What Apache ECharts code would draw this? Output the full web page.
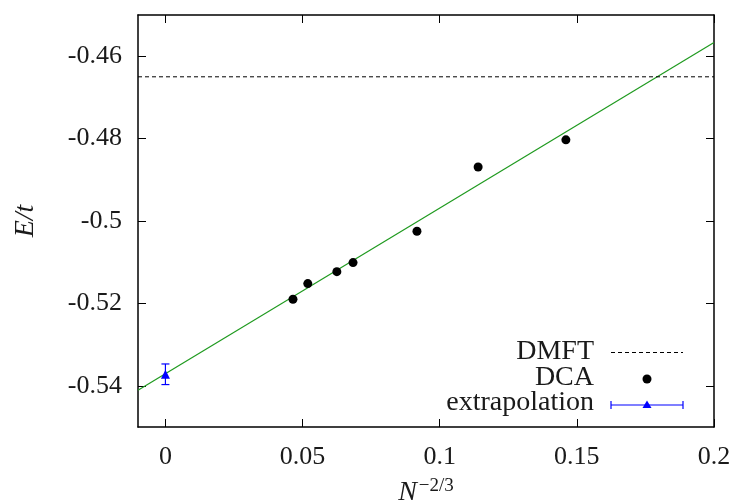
<!DOCTYPE html>
<html>
<head>
<meta charset="utf-8">
<script src="https://cdn.jsdelivr.net/npm/echarts@6/dist/echarts.min.js"></script>
<style>html,body{margin:0;padding:0;background:#fff}#c{width:736px;height:501px}</style>
</head>
<body>
<div id="c"></div>
<script>
// ---- data ----
const xTicks = [0, 0.05, 0.1, 0.15, 0.2];
const xTickLabels = ['0', '0.05', '0.1', '0.15', '0.2'];
const yTicks = [-0.54, -0.52, -0.5, -0.48, -0.46];
const yTickLabels = ['-0.54', '-0.52', '-0.5', '-0.48', '-0.46'];
const dcaX = [0.0465, 0.0519, 0.0625, 0.0684, 0.0917, 0.1140, 0.1460];
const dcaY = [-0.5190, -0.5152, -0.5123, -0.5101, -0.5025, -0.4869, -0.4803];
const dmftValue = -0.465;
const extrapX = [0];
const extrapY = [-0.5372];
const extrapErr = [0.0025];
const fitX = [-0.01, 0.2];
const fitY = [-0.5411, -0.4567];
const legendNames = ['DMFT', 'DCA', 'extrapolation'];

const FONT = '"Liberation Serif", "DejaVu Serif", serif';
const FS = 26;
const LFS = 28;
const GREEN = '#1f9a1f';
const BLUE = '#0000ff';
const TXT = '#1a1a1a';

const chart = echarts.init(document.getElementById('c'), null, {renderer: 'canvas'});

const axisCommon = {
  type: 'value', min: -0.01, max: 0.2,
  splitLine: {show: false},
  axisLine: {show: true, onZero: false, lineStyle: {color: '#000', width: 1.5}},
};

const option = {
  animation: false,
  backgroundColor: '#fff',
  grid: {left: 138, right: 22, top: 15, bottom: 74, show: false, containLabel: false, outerBoundsMode: 'none'},
  xAxis: [
    Object.assign({}, axisCommon, {
      position: 'bottom',
      axisTick: {show: true, inside: true, length: 8, lineStyle: {color: '#000', width: 1}, customValues: xTicks},
      axisLabel: {show: true, margin: 17, color: TXT, fontFamily: FONT, fontSize: FS,
        customValues: xTicks,
        formatter: v => { const i = xTicks.findIndex(t => Math.abs(t - v) < 1e-9); return i >= 0 ? xTickLabels[i] : ''; }},
      name: '{n|N}{s|\u22122/3}',
      nameLocation: 'middle', nameGap: 50,
      nameTextStyle: {
        rich: {
          n: {fontFamily: FONT, fontStyle: 'italic', fontSize: 28, color: TXT, lineHeight: 30, verticalAlign: 'bottom'},
          s: {fontFamily: FONT, fontSize: 19, color: TXT, lineHeight: 30, verticalAlign: 'top', padding: [0, 0, 16, 2]}
        }
      }
    }),
    Object.assign({}, axisCommon, {
      position: 'top',
      axisTick: {show: true, inside: true, length: 8, lineStyle: {color: '#000', width: 1}, customValues: xTicks},
      axisLabel: {show: false}
    })
  ],
  yAxis: [
    {
      type: 'value', min: -0.55, max: -0.45, position: 'left',
      splitLine: {show: false},
      axisLine: {show: true, onZero: false, lineStyle: {color: '#000', width: 1.5}},
      axisTick: {show: true, inside: true, length: 8, lineStyle: {color: '#000', width: 1}, customValues: yTicks},
      axisLabel: {show: true, margin: 16, color: TXT, fontFamily: FONT, fontSize: FS,
        customValues: yTicks,
        formatter: v => { const i = yTicks.findIndex(t => Math.abs(t - v) < 1e-9); return i >= 0 ? yTickLabels[i] : ''; }},
      name: 'E/t', nameLocation: 'middle', nameGap: 98, nameRotate: 90,
      nameTextStyle: {fontFamily: FONT, fontStyle: 'italic', fontSize: 28, color: TXT}
    },
    {
      type: 'value', min: -0.55, max: -0.45, position: 'right',
      splitLine: {show: false},
      axisLine: {show: true, onZero: false, lineStyle: {color: '#000', width: 1.5}},
      axisTick: {show: true, inside: true, length: 8, lineStyle: {color: '#000', width: 1}, customValues: yTicks},
      axisLabel: {show: false}
    }
  ],
  series: [
    {
      name: 'fit', type: 'line', xAxisIndex: 0, yAxisIndex: 0,
      data: fitX.map((x, i) => [x, fitY[i]]),
      showSymbol: false, symbol: 'none', silent: true,
      lineStyle: {color: GREEN, width: 1.2}, z: 2
    },
    {
      name: 'DMFT', type: 'line', xAxisIndex: 0, yAxisIndex: 0,
      data: [[-0.01, dmftValue], [0.2, dmftValue]],
      symbol: 'none', silent: true,
      lineStyle: {color: '#000', width: 1, type: [4, 3]}, z: 2
    },
    {
      name: 'DCA', type: 'scatter', xAxisIndex: 0, yAxisIndex: 0,
      data: dcaX.map((x, i) => [x, dcaY[i]]),
      symbol: 'circle', symbolSize: 9,
      itemStyle: {color: '#000', opacity: 1}, z: 3
    },
    {
      name: 'extrapolation-err', type: 'custom', xAxisIndex: 0, yAxisIndex: 0,
      data: extrapX.map((x, i) => [x, extrapY[i], extrapY[i] - extrapErr[i], extrapY[i] + extrapErr[i]]),
      renderItem: function (params, api) {
        const x = api.value(0);
        const p = api.coord([x, api.value(3)]);
        const q = api.coord([x, api.value(2)]);
        const st = {stroke: BLUE, lineWidth: 1.2};
        const w = 4;
        return {
          type: 'group',
          children: [
            {type: 'line', shape: {x1: p[0], y1: p[1], x2: q[0], y2: q[1]}, style: st},
            {type: 'line', shape: {x1: p[0] - w, y1: p[1], x2: p[0] + w, y2: p[1]}, style: st},
            {type: 'line', shape: {x1: q[0] - w, y1: q[1], x2: q[0] + w, y2: q[1]}, style: st}
          ]
        };
      },
      z: 4
    },
    {
      name: 'extrapolation', type: 'scatter', xAxisIndex: 0, yAxisIndex: 0,
      data: extrapX.map((x, i) => [x, extrapY[i]]),
      symbol: 'triangle', symbolSize: 9,
      itemStyle: {color: BLUE, opacity: 1}, z: 5
    }
  ],
  graphic: [
    {type: 'text', x: 594, y: 352, style: {text: legendNames[0], fontFamily: FONT, fontSize: LFS, fill: TXT, align: 'right', verticalAlign: 'middle'}},
    {type: 'line', shape: {x1: 611, y1: 352.5, x2: 683, y2: 352.5}, style: {stroke: '#000', lineWidth: 1, lineDash: [4, 3]}},
    {type: 'text', x: 594, y: 378, style: {text: legendNames[1], fontFamily: FONT, fontSize: LFS, fill: TXT, align: 'right', verticalAlign: 'middle'}},
    {type: 'circle', shape: {cx: 647, cy: 379, r: 4.5}, style: {fill: '#000'}},
    {type: 'text', x: 594, y: 403, style: {text: legendNames[2], fontFamily: FONT, fontSize: LFS, fill: TXT, align: 'right', verticalAlign: 'middle'}},
    {type: 'line', shape: {x1: 611, y1: 405, x2: 683, y2: 405}, style: {stroke: BLUE, lineWidth: 1.2}},
    {type: 'line', shape: {x1: 611, y1: 401, x2: 611, y2: 409}, style: {stroke: BLUE, lineWidth: 1.2}},
    {type: 'line', shape: {x1: 683, y1: 401, x2: 683, y2: 409}, style: {stroke: BLUE, lineWidth: 1.2}},
    {type: 'polygon', shape: {points: [[647, 400.5], [651.5, 408], [642.5, 408]]}, style: {fill: BLUE}}
  ]
};
chart.setOption(option);
</script>
</body>
</html>
